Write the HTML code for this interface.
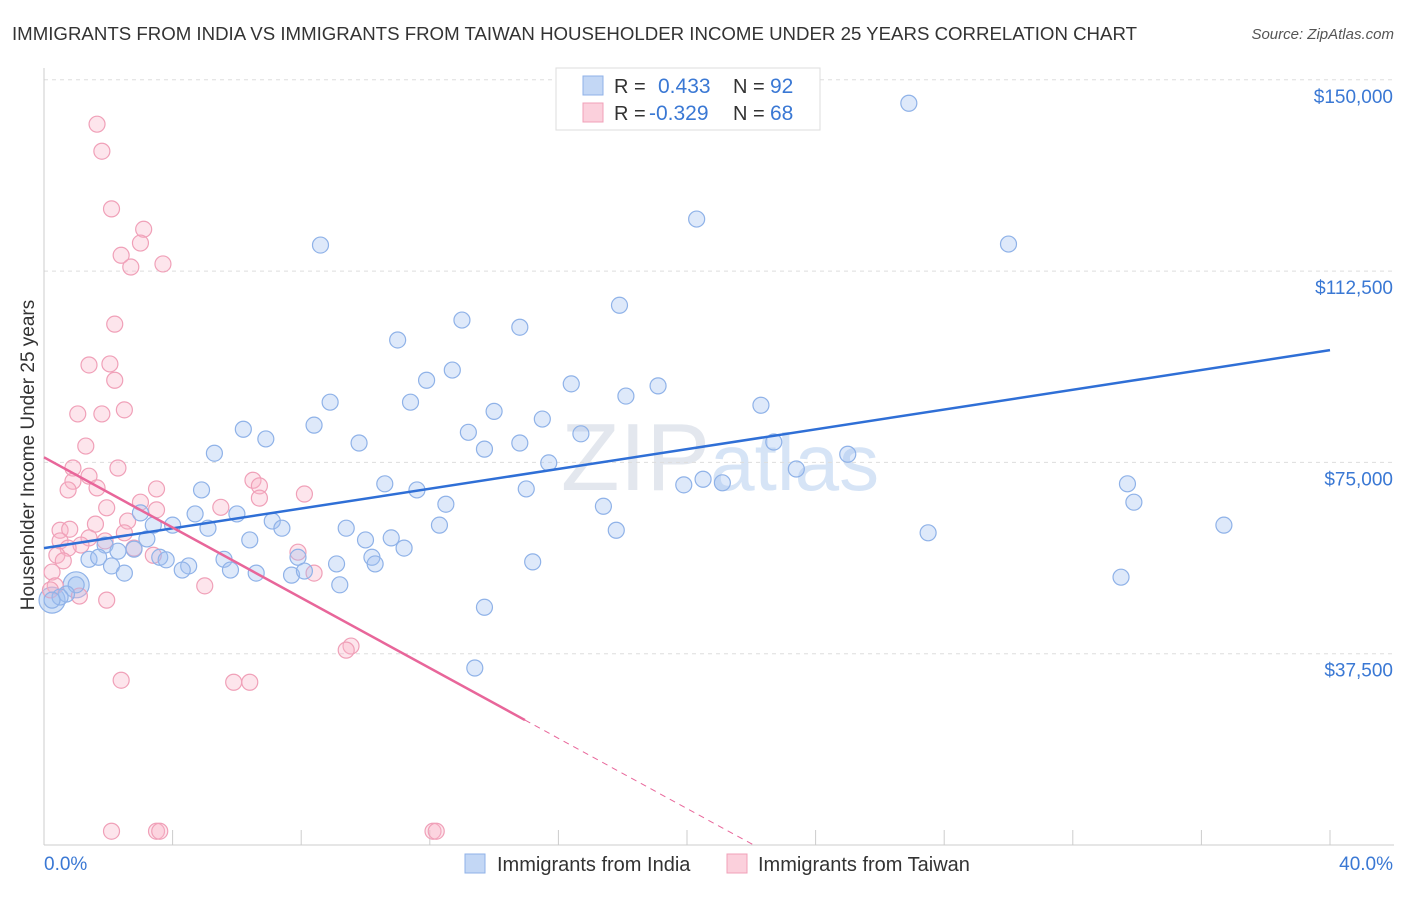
<!DOCTYPE html>
<html><head><meta charset="utf-8"><style>
body{margin:0;background:#fff;font-family:"Liberation Sans",sans-serif;}
svg text{font-family:"Liberation Sans",sans-serif;}
</style></head><body>
<svg id="chart" width="1406" height="892" xmlns="http://www.w3.org/2000/svg">
<text x="12" y="40" font-size="18" fill="#333" textLength="1125" lengthAdjust="spacingAndGlyphs">IMMIGRANTS FROM INDIA VS IMMIGRANTS FROM TAIWAN HOUSEHOLDER INCOME UNDER 25 YEARS CORRELATION CHART</text>
<text x="1394" y="39" font-size="15" fill="#555" font-style="italic" text-anchor="end">Source: ZipAtlas.com</text>
<text x="720" y="490" font-size="96" fill="#e3e7ee" text-anchor="middle" font-family="Liberation Serif">ZIP<tspan fill="#d6e4f6" font-family="Liberation Sans" font-size="80">atlas</tspan></text>
<g id="grid"></g>
<g id="axes"></g>
<g id="marks"></g>
<text transform="translate(34,455) rotate(-90)" font-size="19" fill="#333" text-anchor="middle">Householder Income Under 25 years</text>
<g>
<rect x="556" y="68" width="264" height="62" fill="#fff" stroke="#ddd"/>
<rect x="583" y="76" width="20" height="19" fill="#c3d7f5" stroke="#8fb2e8"/>
<rect x="583" y="103" width="20" height="19" fill="#fbd0dc" stroke="#f0a0b8"/>
<text x="614" y="93" font-size="20" fill="#333">R =</text>
<text x="658" y="93" font-size="21" fill="#3a78d4">0.433</text>
<text x="733" y="93" font-size="20" fill="#333">N =</text>
<text x="770" y="93" font-size="21" fill="#3a78d4">92</text>
<text x="614" y="120" font-size="20" fill="#333">R =</text>
<text x="649" y="120" font-size="21" fill="#3a78d4">-0.329</text>
<text x="733" y="120" font-size="20" fill="#333">N =</text>
<text x="770" y="120" font-size="21" fill="#3a78d4">68</text>
</g>
<g>
<rect x="465" y="854" width="20" height="19" fill="#c3d7f5" stroke="#8fb2e8"/>
<text x="497" y="871" font-size="20" fill="#333">Immigrants from India</text>
<rect x="727" y="854" width="20" height="19" fill="#fbd0dc" stroke="#f0a0b8"/>
<text x="758" y="871" font-size="20" fill="#333">Immigrants from Taiwan</text>
</g>
</svg>
<script>
const yTicks=[37500,75000,112500,150000];
const yTickLabels=["$37,500","$75,000","$112,500","$150,000"];
const xTickLabels=["0.0%","40.0%"];
const indiaX=[26.9,20.3,30.0,8.6,17.9,13.0,14.8,11.0,12.7,11.9,16.4,19.1,18.1,11.4,8.9,22.3,14.0,15.5,8.4,6.2,13.2,16.7,6.9,9.8,14.8,22.7,13.7,5.3,25.0,15.7,23.4,20.5,19.9,21.1,10.6,33.7,11.6,15.0,4.9,33.9,12.5,17.4,4.7,6.0,3.0,7.1,3.4,4.0,5.1,7.4,9.4,12.3,17.8,36.7,27.5,6.4,10.0,10.8,3.2,1.9,11.2,2.8,2.3,7.9,3.6,5.6,10.2,1.4,1.7,3.8,9.1,10.3,15.2,4.5,2.1,4.3,5.8,2.5,7.7,6.6,8.1,33.5,9.2,1.0,0.7,0.5,0.25,13.7,13.4];
const indiaY=[145400,122700,117800,117600,105800,102900,101500,99000,93100,91100,90400,90000,88000,86800,86800,86200,85000,83500,82300,81500,80900,80600,79600,78800,78800,79000,77600,76800,76600,74900,73700,71700,70600,71000,70800,70800,69600,69800,69600,67200,66800,66400,64900,64900,65100,63500,62700,62700,62100,62100,62100,62700,61700,62700,61200,59800,59800,60200,60000,58800,58200,58000,57600,56400,56400,56000,56400,56000,56400,55900,55100,55100,55500,54700,54700,53900,53900,53300,52900,53300,53700,52500,51000,51000,49200,48600,48000,46600,34700];
const taiwanX=[1.65,1.8,2.1,3.1,3.0,2.4,2.7,3.7,2.2,1.4,2.05,2.2,2.5,1.05,1.8,1.3,2.3,0.9,1.4,0.9,6.5,6.7,1.65,0.75,3.5,8.1,6.7,3.0,1.95,5.5,3.5,2.6,1.6,0.5,0.8,2.5,1.4,0.5,1.9,1.15,0.75,2.8,3.4,7.9,0.4,0.6,0.25,8.4,0.35,0.2,5.0,1.1,1.95,9.55,9.4,2.4,5.9,6.4,2.1,3.5,3.6,12.1,12.2];
const taiwanY=[141300,136000,124700,120700,118000,115600,113300,113900,102100,94100,94300,91100,85300,84500,84500,78200,73900,73900,72300,71300,71500,70400,70000,69600,69800,68800,68000,67200,66100,66200,65700,63500,62900,61700,61900,61200,60200,59600,59600,58800,58200,58200,56800,57400,56800,55700,53500,53300,50800,50000,50800,48800,48000,39000,38200,32300,31900,31900,2700,2700,2700,2700,2700];
const indiaBig=[[1.0,51000],[0.25,48000]];
const indiaTrend=[58200,97000];
const taiwanTrend=[76000,-3443];
const taiwanSolidEnd=14.96;

const NS="http://www.w3.org/2000/svg";
const X=v=>44+v/40*1286;
const Y=v=>845-v/37500*191.3;
function mk(tag,attrs,parent){const e=document.createElementNS(NS,tag);for(const k in attrs)e.setAttribute(k,attrs[k]);parent.appendChild(e);return e;}
const grid=document.getElementById('grid'),axes=document.getElementById('axes'),marks=document.getElementById('marks');
yTicks.forEach((t,i)=>{
 const l=mk('line',{x1:44,x2:1394,y1:Y(t),y2:Y(t),stroke:'#ddd','stroke-dasharray':'4,4'},grid);
 
 
 const tx=mk('text',{x:1393,y:Y(t)+23,'font-size':19,fill:'#3a78d4','text-anchor':'end'},axes);
 tx.textContent=yTickLabels[i];
 
 
});
mk('line',{x1:44,x2:44,y1:68,y2:845,stroke:'#ccc'},axes);
mk('line',{x1:44,x2:1394,y1:845,y2:845,stroke:'#ccc'},axes);
for(let i=0;i<=10;i++){const t=mk('line',{x1:X(i*4),x2:X(i*4),y1:830,y2:845,stroke:'#ccc'},axes);}
const xl0=mk('text',{x:44,y:870,'font-size':19,fill:'#3a78d4'},axes);xl0.textContent=xTickLabels[0];


const xl1=mk('text',{x:1393,y:870,'font-size':19,fill:'#3a78d4','text-anchor':'end'},axes);xl1.textContent=xTickLabels[1];


function dot(x,y,r,fill,stroke,name){const c=mk('circle',{cx:X(x),cy:Y(y),r:r,fill:fill,stroke:stroke,'stroke-width':1.2},marks);
 
 }
indiaBig.forEach(p=>dot(p[0],p[1],13,'rgba(160,192,240,0.45)','#8fb2e8','india-point-large'));
taiwanX.forEach((x,i)=>dot(x,taiwanY[i],8,'rgba(248,180,200,0.35)','#f0a0b8','taiwan-point'));
indiaX.forEach((x,i)=>dot(x,indiaY[i],8,'rgba(160,192,240,0.35)','#8fb2e8','india-point'));
const bl=mk('line',{x1:X(0),y1:Y(indiaTrend[0]),x2:X(40),y2:Y(indiaTrend[1]),stroke:'#2f6fd6','stroke-width':2.5},marks);


const tf=x=>taiwanTrend[0]+taiwanTrend[1]*x;
const zero=-taiwanTrend[0]/taiwanTrend[1];
const pl=mk('line',{x1:X(0),y1:Y(tf(0)),x2:X(taiwanSolidEnd),y2:Y(tf(taiwanSolidEnd)),stroke:'#e8669a','stroke-width':2.5},marks);


const pd=mk('line',{x1:X(taiwanSolidEnd),y1:Y(tf(taiwanSolidEnd)),x2:X(zero),y2:Y(0),stroke:'#e8669a','stroke-width':1,'stroke-dasharray':'6,5'},marks);


</script>
</body></html>
